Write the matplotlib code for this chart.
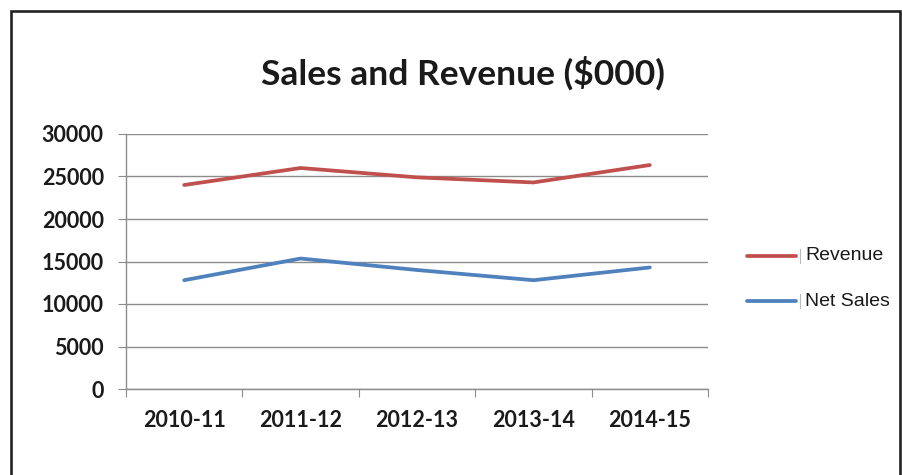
import matplotlib.pyplot as plt
from matplotlib.patches import Rectangle
from matplotlib.lines import Line2D

# Data
years = ["2010-11", "2011-12", "2012-13", "2013-14", "2014-15"]
revenue = [24000, 26000, 24900, 24300, 26350]
net_sales = [12800, 15350, 14000, 12800, 14300]
y_ticks = [0, 5000, 10000, 15000, 20000, 25000, 30000]
series_names = ["Revenue", "Net Sales"]

W, H = 902, 475
fig = plt.figure(figsize=(W / 100, H / 100), dpi=100)

# axes placed in pixel terms
L, R, T, B = 126, 708, 134, 389
ax = fig.add_axes([L / W, (H - B) / H, (R - L) / W, (B - T) / H])

red = "#C0504D"
blue = "#4F81BD"
LW = 2.7
x = list(range(len(years)))
ax.plot(x, revenue, color=red, lw=LW, solid_capstyle="round", zorder=3)
ax.plot(x, net_sales, color=blue, lw=LW, solid_capstyle="round", zorder=3)

ax.set_xlim(-0.5, len(years) - 0.5)
ax.set_ylim(0, 30000)
ax.set_yticks(y_ticks)
ax.set_yticklabels([str(v) for v in y_ticks])
ax.grid(axis="y", color="#8c8c8c", lw=1.0)
ax.set_axisbelow(True)

# category boundaries carry tick marks, centres carry labels
ax.set_xticks([i - 0.5 for i in range(len(years) + 1)])
ax.set_xticklabels([])
ax.set_xticks(x, minor=True)
ax.set_xticklabels(years, minor=True)
ax.tick_params(axis="x", which="major", length=6, color="#8c8c8c", direction="out")
ax.tick_params(axis="x", which="minor", length=0, pad=15)
ax.tick_params(axis="y", length=6, color="#8c8c8c", pad=10)

for lab in ax.get_yticklabels() + ax.get_xticklabels(minor=True):
    lab.set_fontfamily("Lato")
    lab.set_fontweight("bold")
    lab.set_fontsize(15.5)
    lab.set_color("#1a1a1a")

for s in ["top", "right"]:
    ax.spines[s].set_visible(False)
for s in ["left", "bottom"]:
    ax.spines[s].set_color("#8c8c8c")
    ax.spines[s].set_linewidth(1.0)

fig.text(463 / W, 1 - 73 / H, "Sales and Revenue ($000)", ha="center", va="center",
         fontsize=25.5, fontweight="bold", family="Lato", color="#1a1a1a")

# legend entries placed by hand (pixel positions)
for name, col, ly in zip(series_names, [red, blue], [256, 301]):
    yf = 1 - ly / H
    fig.add_artist(Line2D([747 / W, 796 / W], [yf, yf], color=col, lw=LW,
                          solid_capstyle="round", transform=fig.transFigure))
    fig.add_artist(Line2D([800 / W, 800 / W], [yf - 7 / H, yf + 7 / H], color="#bbbbbb",
                          lw=0.8, transform=fig.transFigure))
    fig.text(805 / W, yf, name, ha="left", va="center", family="Liberation Sans",
             fontsize=14, color="#1a1a1a")

# outer frame
fig.patches.append(Rectangle((11 / W, -0.05), (900 - 11) / W, 1.05 - 11 / H,
                             transform=fig.transFigure, fill=False,
                             edgecolor="#222222", lw=1.9))

fig.savefig("out.png", dpi=100)
